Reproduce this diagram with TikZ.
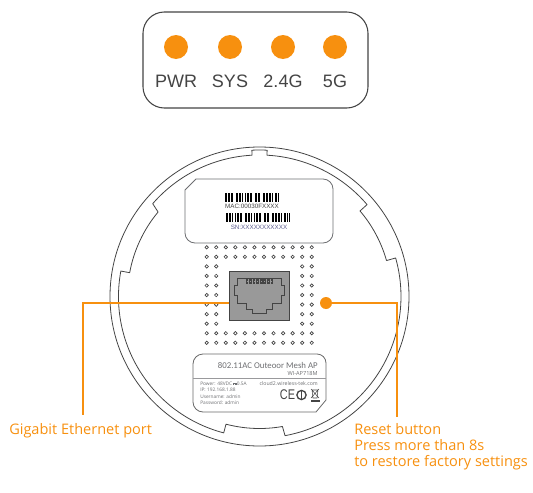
\documentclass[tikz,border=0pt]{standalone}
\usepackage{fontspec}
\usetikzlibrary{calc}
\setmainfont{Open Sans}
\newfontfamily\arialf{Liberation Sans}
\newfontfamily\carl{Carlito}
\definecolor{org}{HTML}{F7900F}
\definecolor{ln}{HTML}{444444}
\definecolor{lab}{HTML}{6D6E71}
\newcommand{\dcsym}{\raisebox{1.3pt}{\rule{2.6pt}{0.22pt}}\kern-2.6pt\raisebox{0.6pt}{\rule{0.7pt}{0.22pt}\kern0.25pt\rule{0.7pt}{0.22pt}\kern0.25pt\rule{0.7pt}{0.22pt}}}
\tikzset{
  x=0.75pt,y=-0.75pt,
  outline/.style={draw=ln,line width=0.6pt,line join=round},
  pad/.style={draw=ln,line width=0.5pt},
  led/.style={circle,fill=org,minimum size=18pt,inner sep=0pt},
  ledlab/.style={font=\arialf\fontsize{13.5}{14}\selectfont,text=ln,inner sep=0pt},
  callout/.style={font=\fontsize{10.9}{12.15}\selectfont,text=org,inner sep=0pt,align=left},
  leader/.style={draw=org,line width=0.8pt},
  tiny/.style={font=\fontsize{3.6}{4}\selectfont,text=lab,inner sep=0pt},
  bar/.style={draw=black,line width=0.55pt},
}
\begin{document}
\begin{tikzpicture}
\useasboundingbox (0,0) rectangle (533,493);
% LED panel
\draw[draw=ln,line width=0.8pt,rounded corners=16pt] (143,12) rectangle (368,108);
\foreach \n/\xx/\t in {a/176/PWR,b/230/SYS,c/283/2.4G,d/335/5G}{
  \node[led] (led\n) at (\xx,47) {};
  \node[ledlab] (lab\n) at (\xx,81) {\t};
}
% Body
\coordinate (c) at (259.5,296.5);
\draw[outline] (c) circle[radius=149.5];
\draw[outline]
  ($(c)+(80:132)$) arc[start angle=80,end angle=104.7,radius=132]
  -- ($(c)+(104.7:141)$) arc[start angle=104.7,end angle=190.4,radius=141]
  -- ($(c)+(190.4:132)$) arc[start angle=190.4,end angle=219.8,radius=132]
  -- ($(c)+(221:141.5)$) arc[start angle=221,end angle=267,radius=141.5]
  -- ($(c)+(267:146.5)$) arc[start angle=267,end angle=273,radius=146.5]
  -- ($(c)+(273:141.5)$) arc[start angle=273,end angle=319.5,radius=141.5]
  -- ($(c)+(319.6:132)$) arc[start angle=319.6,end angle=344.2,radius=132]
  -- ($(c)+(344.2:141.5)$) arc[start angle=344.2,end angle=439.6,radius=141.5]
  -- cycle;
% MAC label
\draw[draw=lab,line width=0.6pt] (196,179) -- (323,179) arc[start angle=-90,end angle=0,radius=10]
  -- (333,233) arc[start angle=0,end angle=90,radius=10] -- (195,243)
  arc[start angle=90,end angle=180,radius=10] -- (185,190) -- cycle;
\foreach \p in {225,226.5,228,229.5,231,232.5,236,237.5,239,240.5,242,245.5,247,248.5,250,251.5,255,256.5,258,259.5,263,264.5,266,267.5,269,270.5,272,275,276.5,278.5}{
  \draw[bar] (\p,193) -- (\p,202);}
\foreach \p in {226,227.5,229,230.5,232,235.5,237,238.5,240,241.5,245,246.5,248,249.5,251,254.5,256,257.5,259,260.5,264,265.5,267,268.5,272,273.5,275,276.5,278,279.5,281,284,285.5,287,289.5}{
  \draw[bar] (\p,213) -- (\p,222);}
\node[font=\arialf\fontsize{4.7}{5}\selectfont,text=ln,inner sep=0pt] (mac) at (252,206.5) {MAC:00030FXXXX};
\node[font=\arialf\fontsize{4.7}{5}\selectfont,text=ln!75!blue!80!white,inner sep=0pt] (sn) at (259,227.5) {SN:XXXXXXXXXXX};
% Vent holes
\foreach \i in {0,...,11}{
  \foreach \j in {0,...,10}{
    \pgfmathtruncatemacro{\show}{(\j<2 || \j>8 || \i<2 || \i>9) ? 1 : 0}
    \ifnum\show=1
      \draw[pad] (206.7+9.55*\i,247.3+9.55*\j) circle[radius=1.7];
    \fi
  }
}
% Leaders
\coordinate (lbend) at (83,303);
\coordinate (lend) at (83,415);
\coordinate (rbend) at (397,303);
\coordinate (rend) at (397,417);
% Port
\node[draw=ln,line width=0.7pt,fill=black!40,minimum width=45pt,minimum height=36.3pt,inner sep=0pt] (port) at (259.3,295.9) {};
\draw[draw=ln,line width=0.55pt,line join=miter]
  (237.3,278.3) -- (281.7,278.3) -- (281.7,285) -- (284.3,285) -- (284.3,295) -- (281.7,295)
  -- (281.7,303.3) -- (272.7,303.3) -- (272.7,309.3) -- (266.7,309.3) -- (266.7,313.3)
  -- (252.3,313.3) -- (252.3,309.3) -- (246.3,309.3) -- (246.3,303.3) -- (237.3,303.3)
  -- (237.3,295) -- (234.7,295) -- (234.7,285) -- (237.3,285) -- cycle;
\foreach \i in {0,...,7}{
  \fill[ln] (245.7+3.55*\i,278.8) rectangle ++(2.6,4.8);
  \fill[black!40] (246.6+3.55*\i,280.6) rectangle ++(0.8,0.8);
}
\node[circle,fill=org,minimum size=9pt,inner sep=0pt] (reset) at (326,303) {};
\draw[leader] (port.west |- lbend) -- (lbend) -- (lend);
\draw[leader] (reset) -- (rbend) -- (rend);
% Device label
\draw[draw=ln!80,line width=0.6pt] (203,354) -- (317,354) arc[start angle=-90,end angle=0,radius=9]
  -- (326,400) -- (316,412) -- (203,412) arc[start angle=90,end angle=180,radius=10]
  -- (193,364) arc[start angle=180,end angle=270,radius=10] -- cycle;
\draw[draw=lab!70,line width=0.6pt] (193,378) -- (326,378);
\node[font=\carl\fontsize{6.6}{8}\selectfont,text=lab,inner sep=0pt,anchor=east] (title) at (318,365) {802.11AC Outeoor Mesh AP};
\node[tiny,font=\fontsize{4.2}{5}\selectfont,anchor=east] (model) at (318,373.5) {WI-AP718M};
\node[tiny,anchor=west] (l1) at (200,383.3) {Power: 48VDC \dcsym 0.5A};
\node[tiny,anchor=west] (l2) at (200,389.3) {IP: 192.168.1.88};
\node[tiny,anchor=west] (l3) at (200,396.3) {Username: admin};
\node[tiny,anchor=west] (l4) at (200,402.3) {Password: admin};
\node[tiny,font=\fontsize{3.9}{4}\selectfont,anchor=east] (url) at (318,383.3) {cloud2.wireless-tek.com};
\node[font=\arialf\fontsize{10.5}{11}\selectfont,text=ln,inner sep=0pt] (ce) at (287.5,395) {\scalebox{0.78}[1]{CE}};
\draw[draw=ln,line width=1pt] (301.5,395) circle[radius=4.6];
\draw[draw=ln,line width=1pt] (301.5,391) -- (301.5,399);
\draw[draw=ln,line width=0.4pt] (311,389) -- (319,398) (319,389) -- (311,398) (312,390) -- (318,390) -- (317,398) -- (313,398) -- cycle;
\fill[ln] (311,400) rectangle (320,402);
% Callouts
\node[callout,anchor=base west] (gig) at (9,434) {Gigabit Ethernet port};
\node[callout,anchor=north west] (rst) at (354,423) {Reset button\\Press more than 8s\\to restore factory settings};
\end{tikzpicture}
\end{document}
